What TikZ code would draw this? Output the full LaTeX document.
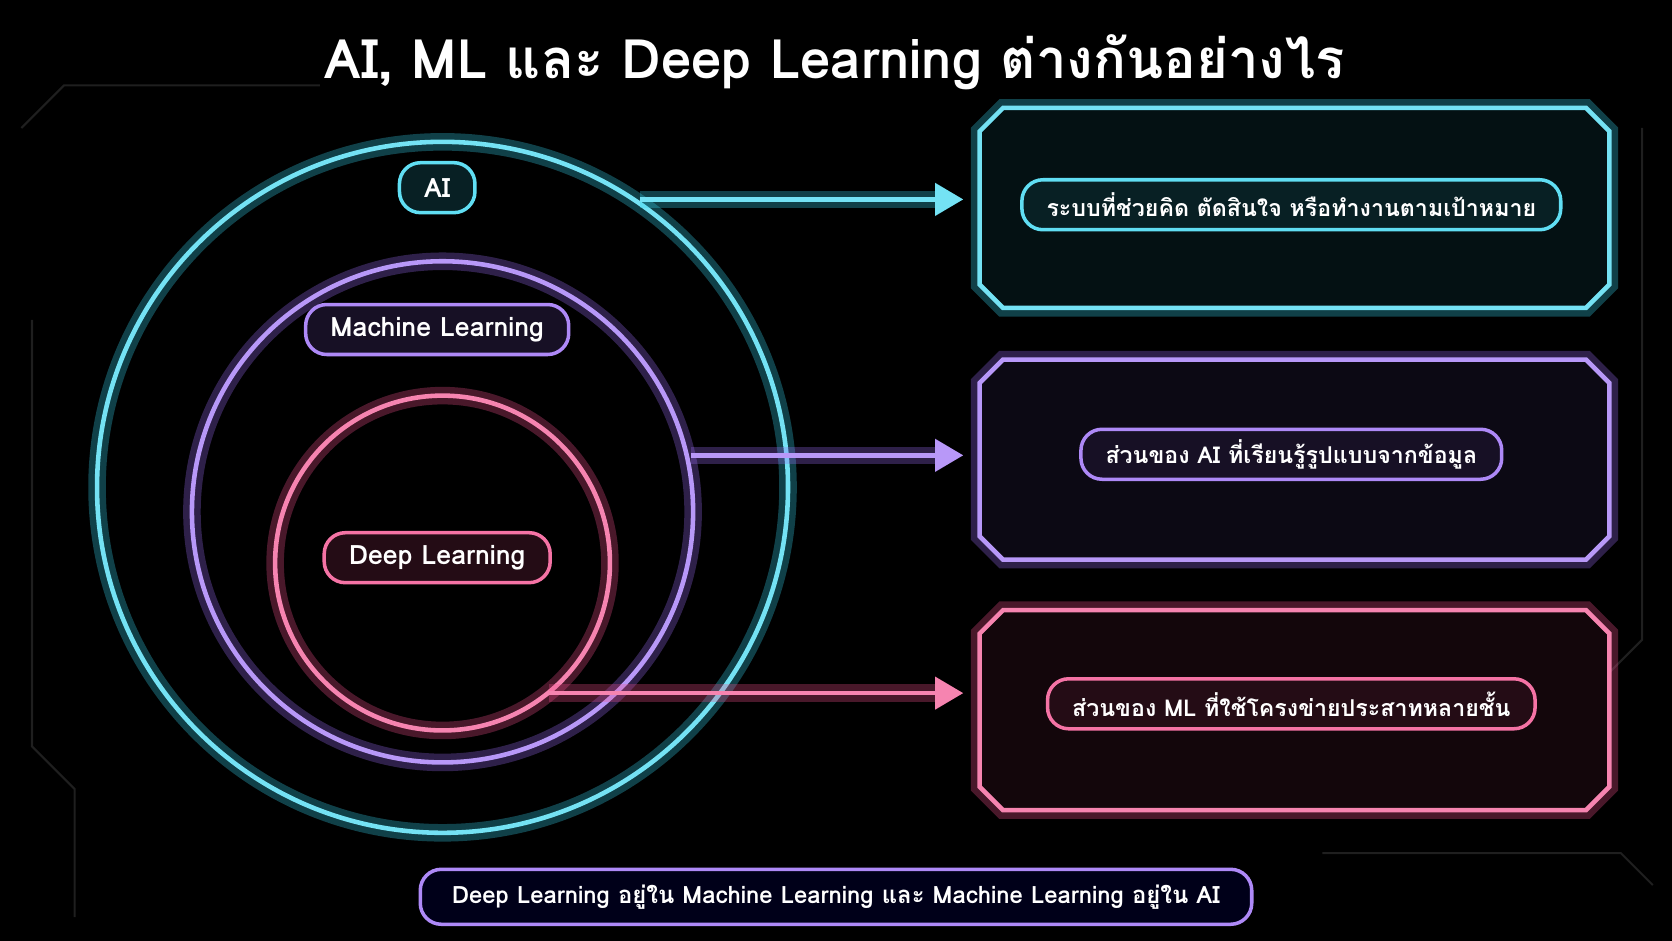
\documentclass[tikz,border=0pt]{standalone}
\usepackage{fontspec}
\setmainfont[Script=Thai]{Loma}
\usetikzlibrary{arrows.meta}
\usetikzlibrary{shapes.misc}
\definecolor{aicyan}{HTML}{38D6F0}
\definecolor{mlpurple}{HTML}{9A6CF5}
\definecolor{dlpink}{HTML}{F2508E}
\begin{document}
\begin{tikzpicture}[x=0.01066cm,y=-0.01066cm,
    glow/.style={preaction={draw=#1,opacity=0.3,line width=5pt}, draw=#1!70!white, line width=1.3pt},
    tag/.style={draw=#1!80!white, line width=1pt, fill=#1!15!black, rounded corners=6pt,
        text=white, font=\bfseries\fontsize{7.6}{9}\selectfont, inner ysep=0pt, inner xsep=7pt, minimum height=0.5cm},
    panel/.style={chamfered rectangle, chamfered rectangle xsep=0.22cm, glow=#1,
        fill=#1!8!black, minimum width=6.3cm, minimum height=2cm},
    link/.style={glow=#1, shorten >=4pt, -{Triangle[length=8pt,width=9pt]}}]
    \fill[black] (0,0) rectangle (1568,882);
    \useasboundingbox (0,0) rectangle (1568,882);
    % faint circuit traces
    \draw[white!12!black, line width=0.6pt] (20,120) -- (60,80) -- (300,80);
    \draw[white!12!black, line width=0.6pt] (30,300) -- (30,700) -- (70,740) -- (70,860);
    \draw[white!12!black, line width=0.6pt] (1540,120) -- (1540,600) -- (1500,640);
    \draw[white!12!black, line width=0.6pt] (1240,800) -- (1520,800) -- (1550,830);
    % title
    \node[text=white, font=\bfseries\fontsize{15.5}{18}\selectfont] (title) at (783,58)
        {AI, ML และ Deep Learning ต่างกันอย่างไร};
    % circles
    \draw[glow=aicyan] (415,457) circle (324);
    \draw[glow=mlpurple] (415,480) circle (235);
    \draw[glow=dlpink] (415,528) circle (157);
    \node[tag=aicyan] (ai) at (410,176) {AI};
    \node[tag=mlpurple] (ml) at (410,309) {Machine Learning};
    \node[tag=dlpink] (dl) at (410,523) {Deep Learning};
    % panels
    \node[panel=aicyan] (aipanel) at (1214,195) {};
    \node[panel=mlpurple] (mlpanel) at (1214,431) {};
    \node[panel=dlpink] (dlpanel) at (1214,666) {};
    \node[tag=aicyan, font=\bfseries\fontsize{6.6}{8}\selectfont] (aitext) at (1211,192) {ระบบที่ช่วยคิด ตัดสินใจ หรือทำงานตามเป้าหมาย};
    \node[tag=mlpurple, font=\bfseries\fontsize{6.6}{8}\selectfont] (mltext) at (1211,426) {ส่วนของ AI ที่เรียนรู้รูปแบบจากข้อมูล};
    \node[tag=dlpink, font=\bfseries\fontsize{6.6}{8}\selectfont] (dltext) at (1211,660) {ส่วนของ ML ที่ใช้โครงข่ายประสาทหลายชั้น};
    % arrows
    \coordinate (aistart) at (600,187);
    \coordinate (mlstart) at (648,427);
    \coordinate (dlstart) at (515,650);
    \draw[link=aicyan] (aistart) -- (aipanel.west |- aistart);
    \draw[link=mlpurple] (mlstart) -- (mlpanel.west |- mlstart);
    \draw[link=dlpink] (dlstart) -- (dlpanel.west |- dlstart);
    % footer
    \node[tag=mlpurple, fill=black!90!blue, minimum height=0.55cm, inner xsep=9pt,
        font=\bfseries\fontsize{6.8}{8}\selectfont] (note) at (784,841)
        {Deep Learning อยู่ใน Machine Learning และ Machine Learning อยู่ใน AI};
\end{tikzpicture}
\end{document}
